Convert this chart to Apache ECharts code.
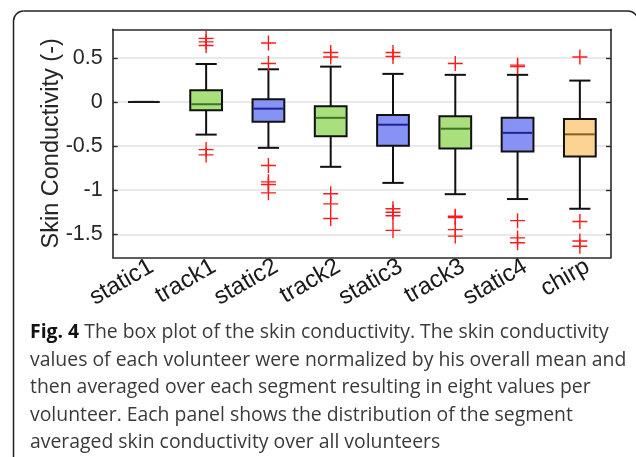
<!DOCTYPE html>
<html><head><meta charset="utf-8">
<script src="https://cdn.jsdelivr.net/npm/echarts@6/dist/echarts.min.js"></script>
<style>html,body{margin:0;padding:0;background:#fff;overflow:hidden}#c{width:636px;height:457px}</style>
</head><body><div id="c"></div>
<script>
const categories = ['static1','track1','static2','track2','static3','track3','static4','chirp'];
const lowerWhisker = [0, -0.37, -0.52, -0.735, -0.917, -1.045, -1.10, -1.21];
const q1 = [0, -0.094, -0.224, -0.39, -0.497, -0.526, -0.56, -0.617];
const median = [0, -0.026, -0.076, -0.18, -0.258, -0.303, -0.35, -0.367];
const q3 = [0, 0.133, 0.03, -0.049, -0.148, -0.163, -0.18, -0.193];
const upperWhisker = [0, 0.43, 0.37, 0.40, 0.318, 0.307, 0.307, 0.242];
const outliers = [
  [],
  [0.72, 0.68, 0.64, -0.54, -0.60],
  [0.667, 0.435, -0.72, -0.905, -0.935, -1.03],
  [0.56, 0.51, -1.04, -1.155, -1.32],
  [0.56, 0.515, -1.21, -1.25, -1.29, -1.455],
  [0.435, -1.295, -1.31, -1.447, -1.52],
  [0.417, 0.40, -1.345, -1.54, -1.595],
  [0.51, -1.355, -1.575, -1.635]
];
const yTicks = [-1.5, -1, -0.5, 0, 0.5];
const captionLines = [
  'The box plot of the skin conductivity. The skin conductivity',
  'values of each volunteer were normalized by his overall mean and',
  'then averaged over each segment resulting in eight values per',
  'volunteer. Each panel shows the distribution of the segment',
  'averaged skin conductivity over all volunteers'
];

// styles
const fillColors = ['none', '#a9e07d', '#8692f4', '#a9e07d', '#8692f4', '#a9e07d', '#8692f4', '#fdd394'];
const medColors = ['#1a1a1a', '#3c7526', '#1c2492', '#3c7526', '#1c2492', '#3c7526', '#1c2492', '#8a5a22'];

const boxData = categories.map((c, i) => [i, lowerWhisker[i], q1[i], median[i], q3[i], upperWhisker[i]]);
const outlierData = [];
outliers.forEach((arr, i) => arr.forEach(v => outlierData.push([i, v])));

const axisCol = '#2a2a2a';
const tickFont = 'Liberation Sans';

const chart = echarts.init(document.getElementById('c'), null, {renderer: 'canvas'});
const lines = captionLines.map((t, k) => ({
  type: 'text', left: 30, top: 323 + k * 27.6,
  style: {
    text: k === 0 ? '{b|Fig. 4} ' + t : t,
    font: '19.4px "Open Sans"', fill: '#3a3a3a',
    rich: { b: { fontFamily: 'Open Sans', fontSize: 19.4, fontWeight: 'bold', fill: '#111', color: '#111' } }
  }
}));
const frameStyle = { fill: 'none', stroke: '#222', lineWidth: 1.5 };
const frame = [
  { type: 'polyline', silent: true, shape: { points: [[13.5, 470], [13.5, 21]] }, style: frameStyle },
  { type: 'polyline', silent: true, shape: { points: [[23.5, 11], [628, 11]] }, style: frameStyle },
  { type: 'arc', silent: true, shape: { cx: 23.5, cy: 21, r: 10, startAngle: Math.PI, endAngle: Math.PI * 1.5, clockwise: true }, style: frameStyle },
  { type: 'arc', silent: true, shape: { cx: 628, cy: 21, r: 10, startAngle: Math.PI * 1.5, endAngle: Math.PI * 2, clockwise: true }, style: frameStyle }
];

chart.setOption({
  animation: false,
  grid: { left: 112.7, top: 29.3, right: 25, bottom: 199.7, containLabel: false },
  xAxis: [{
    type: 'category', data: categories, position: 'bottom', boundaryGap: true,
    axisLine: { onZero: false, lineStyle: { color: axisCol, width: 1.6 } },
    axisTick: { inside: true, alignWithLabel: true, length: 5, lineStyle: { color: axisCol, width: 1.4 } },
    axisLabel: { rotate: 30, fontSize: 24, fontFamily: tickFont, color: '#1a1a1a', margin: 12, interval: 0,
      hideOverlap: false, padding: [0, -9, 0, 0] },
    splitLine: { show: false }
  }, {
    type: 'category', data: categories, position: 'top', boundaryGap: true,
    axisLine: { onZero: false, lineStyle: { color: axisCol, width: 1.6 } },
    axisTick: { inside: true, alignWithLabel: true, length: 5, lineStyle: { color: axisCol, width: 1.4 } },
    axisLabel: { show: false }, splitLine: { show: false }
  }],
  yAxis: [{
    type: 'value', min: -1.76, max: 0.823, position: 'left',
    name: 'Skin Conductivity (-)', nameLocation: 'middle', nameGap: 49, nameMoveOverlap: false,
    nameTextStyle: { fontSize: 23.5, fontFamily: tickFont, color: '#262626' },
    axisLine: { show: true, onZero: false, lineStyle: { color: axisCol, width: 1.6 } },
    axisTick: { show: true, inside: true, length: 5, customValues: yTicks, lineStyle: { color: axisCol, width: 1.4 } },
    axisLabel: { customValues: yTicks, fontSize: 21.5, fontFamily: tickFont, color: '#262626', margin: 10,
      formatter: v => String(v) },
    splitLine: { show: true, lineStyle: { color: '#e2e2e2', width: 1.5 } }
  }, {
    type: 'value', min: -1.76, max: 0.823, position: 'right',
    axisLine: { show: true, onZero: false, lineStyle: { color: axisCol, width: 1.6 } },
    axisTick: { show: true, inside: true, length: 5, customValues: yTicks, lineStyle: { color: axisCol, width: 1.4 } },
    axisLabel: { show: false }, splitLine: { show: false }
  }],
  series: [{
    type: 'custom', xAxisIndex: 0, yAxisIndex: 0, data: boxData,
    encode: { x: 0, y: [1, 2, 3, 4, 5] },
    renderItem: function (params, api) {
      const i = api.value(0);
      const pLW = api.coord([i, api.value(1)]);
      const pQ1 = api.coord([i, api.value(2)]);
      const pMed = api.coord([i, api.value(3)]);
      const pQ3 = api.coord([i, api.value(4)]);
      const pUW = api.coord([i, api.value(5)]);
      const band = api.size([1, 0])[0];
      const bw = band * 0.51, cw = band * 0.34;
      const x = pMed[0];
      const ls = { stroke: '#111', lineWidth: 2 };
      return {
        type: 'group', children: [
          { type: 'line', shape: { x1: x, y1: pQ3[1], x2: x, y2: pUW[1] }, style: ls },
          { type: 'line', shape: { x1: x, y1: pQ1[1], x2: x, y2: pLW[1] }, style: ls },
          { type: 'line', shape: { x1: x - cw / 2, y1: pUW[1], x2: x + cw / 2, y2: pUW[1] }, style: ls },
          { type: 'line', shape: { x1: x - cw / 2, y1: pLW[1], x2: x + cw / 2, y2: pLW[1] }, style: ls },
          { type: 'rect', shape: { x: x - bw / 2, y: pQ3[1], width: bw, height: pQ1[1] - pQ3[1] },
            style: { fill: fillColors[i], stroke: '#111', lineWidth: 2 } },
          { type: 'line', shape: { x1: x - bw / 2 + 1, y1: pMed[1], x2: x + bw / 2 - 1, y2: pMed[1] },
            style: { stroke: medColors[i], lineWidth: 2 } }
        ]
      };
    }
  }, {
    type: 'scatter', xAxisIndex: 0, yAxisIndex: 0, data: outlierData,
    symbol: 'path://M0,5L10,5M5,0L5,10', symbolSize: 15,
    itemStyle: { color: 'none', borderColor: '#ff1a1a', borderWidth: 1.4, opacity: 1 },
    z: 5
  }],
  graphic: frame.concat(lines)
});
</script></body></html>
